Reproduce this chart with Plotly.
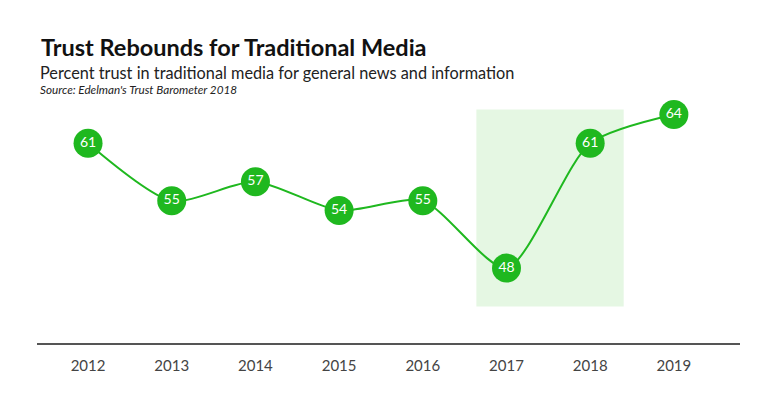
import plotly.graph_objects as go

years = [2012, 2013, 2014, 2015, 2016, 2017, 2018, 2019]
trust = [61, 55, 57, 54, 55, 48, 61, 64]
tick_labels = [str(y) for y in years]
highlight_x = [2016.64, 2018.4]
highlight_y = [44.0, 64.5]

GREEN = "#1fb81f"
FONT = "Lato"

# page has an 8px body margin; build the figure in page coordinates minus 8
OFF = 8
W, H = 780 - OFF, 394 - OFF
ml, mr = 37 - OFF, 40
mt, mb = 100 - OFF, 394 - 343
plot_h = H - mt - mb
plot_w = W - ml - mr

def px_(p):
    return (p - OFF - ml) / plot_w

def py(p):
    return (H - mb - (p - OFF)) / plot_h

fig = go.Figure()
fig.add_shape(type="rect", xref="x", yref="y",
              x0=highlight_x[0], x1=highlight_x[1], y0=highlight_y[0], y1=highlight_y[1],
              fillcolor="#e5f7e3", line=dict(width=0), layer="below")
fig.add_trace(go.Scatter(
    x=years, y=trust, mode="lines+markers+text",
    line=dict(color=GREEN, width=2, shape="spline", smoothing=0.7),
    marker=dict(size=29, color=GREEN, line=dict(width=0)),
    text=[str(v) for v in trust], textposition="middle center",
    textfont=dict(color="white", size=14, family=FONT),
    hoverinfo="skip", cliponaxis=False,
))

fig.add_annotation(text="<b>Trust Rebounds for Traditional Media</b>", xref="paper", yref="paper",
                   x=px_(39), y=py(47), xanchor="left", yanchor="middle",
                   showarrow=False, font=dict(family=FONT, size=23.5, color="#111111"))
fig.add_annotation(text="Percent trust in traditional media for general news and information", xref="paper", yref="paper",
                   x=px_(38), y=py(72), xanchor="left", yanchor="middle",
                   showarrow=False, font=dict(family=FONT, size=16.3, color="#222222"))
fig.add_annotation(text="<i>Source: Edelman's Trust Barometer 2018</i>", xref="paper", yref="paper",
                   x=px_(38), y=py(89), xanchor="left", yanchor="middle",
                   showarrow=False, font=dict(family=FONT, size=11.7, color="#222222"))

fig.update_layout(
    width=W, height=H,
    margin=dict(l=ml, r=mr, t=mt, b=mb),
    paper_bgcolor="white", plot_bgcolor="white",
    showlegend=False,
    xaxis=dict(range=[2011.39, 2019.79], tickvals=years, ticktext=tick_labels,
               showgrid=False, zeroline=False, showline=True, linecolor="#555555", linewidth=1.5,
               ticks="", ticklabelstandoff=8,
               tickfont=dict(family=FONT, size=15, color="#444444")),
    yaxis=dict(range=[40.2, 65.5], visible=False, showgrid=False, zeroline=False),
)

fig.write_html("out.html")
